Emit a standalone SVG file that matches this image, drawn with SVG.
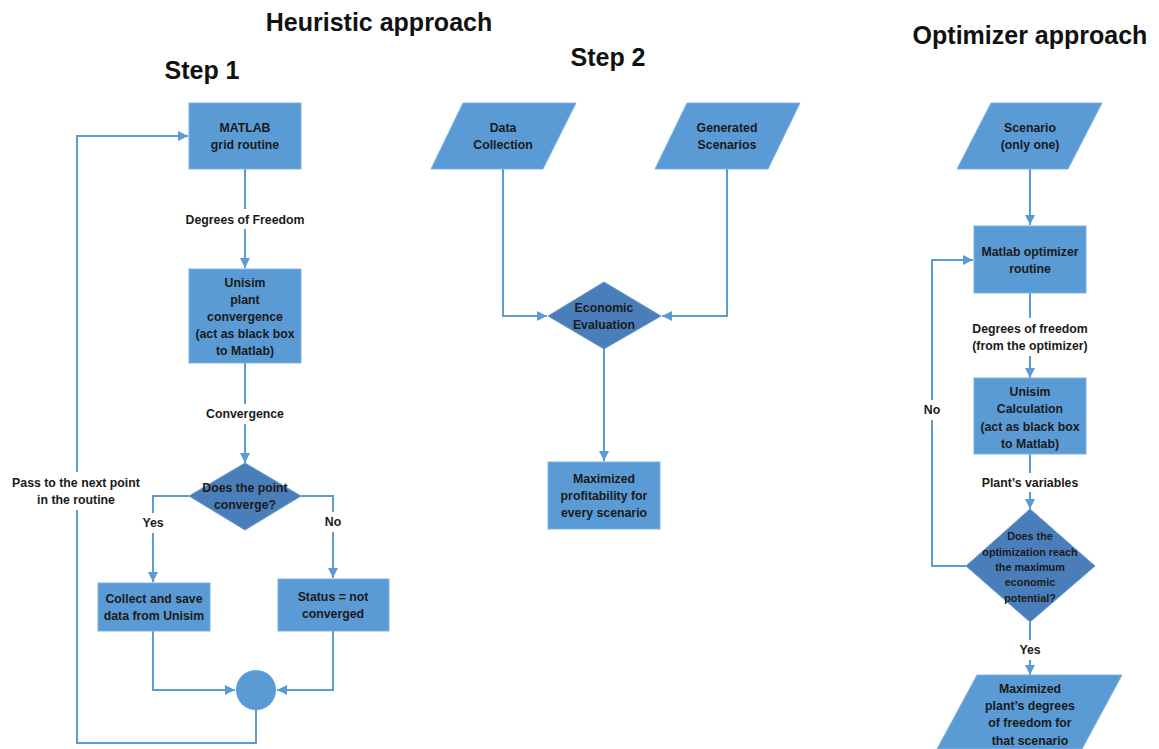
<svg xmlns="http://www.w3.org/2000/svg" width="1159" height="749" viewBox="0 0 1159 749">
<style>
.box{fill:#5B9BD5;stroke:#7FB2E3;stroke-width:1}
.dia{fill:#4A7EBB;stroke:#6C9AD0;stroke-width:1}
.ln{fill:none;stroke:#5B9BD5;stroke-width:2}
text{font-family:"Liberation Sans",Arial,sans-serif;font-weight:bold;fill:#1a1a1a;text-anchor:middle}
.t{font-size:12.3px}
.s{font-size:10.8px}
.h{font-size:25px;fill:#111}
</style>
<defs>
<marker id="ah" viewBox="0 0 10 10" refX="10" refY="5" markerWidth="10" markerHeight="10" markerUnits="userSpaceOnUse" orient="auto">
<path d="M0,0 L10,5 L0,10 z" fill="#5B9BD5"/>
</marker>
</defs>

<g id="titles">
<text class="h" x="379" y="31">Heuristic approach</text>
<text class="h" x="202" y="79">Step 1</text>
<text class="h" x="608" y="66">Step 2</text>
<text class="h" x="1030" y="44">Optimizer approach</text>
</g>

<g id="connectors">
<!-- Step 1 -->
<line class="ln" x1="245" y1="169" x2="245" y2="209"/>
<line class="ln" x1="245" y1="229" x2="245" y2="268" marker-end="url(#ah)"/>
<line class="ln" x1="245" y1="363" x2="245" y2="404"/>
<line class="ln" x1="245" y1="424" x2="245" y2="463" marker-end="url(#ah)"/>
<polyline class="ln" points="189,496 153,496 153,513"/>
<line class="ln" x1="153" y1="533" x2="153" y2="582" marker-end="url(#ah)"/>
<polyline class="ln" points="301,496 333,496 333,512"/>
<line class="ln" x1="333" y1="532" x2="333" y2="578" marker-end="url(#ah)"/>
<polyline class="ln" points="153,631 153,690 235,690" marker-end="url(#ah)"/>
<polyline class="ln" points="333,631 333,690 277,690" marker-end="url(#ah)"/>
<polyline class="ln" points="256,710 256,743 77,743 77,510"/>
<polyline class="ln" points="77,472 77,136 188,136" marker-end="url(#ah)"/>
<!-- Step 2 -->
<polyline class="ln" points="503,169 503,316 547,316" marker-end="url(#ah)"/>
<polyline class="ln" points="727,169 727,316 662,316" marker-end="url(#ah)"/>
<line class="ln" x1="604" y1="349" x2="604" y2="461" marker-end="url(#ah)"/>
<!-- Optimizer -->
<line class="ln" x1="1030" y1="169" x2="1030" y2="225" marker-end="url(#ah)"/>
<line class="ln" x1="1030" y1="293" x2="1030" y2="318"/>
<line class="ln" x1="1030" y1="356" x2="1030" y2="378" marker-end="url(#ah)"/>
<line class="ln" x1="1030" y1="454" x2="1030" y2="473"/>
<line class="ln" x1="1030" y1="492" x2="1030" y2="509" marker-end="url(#ah)"/>
<polyline class="ln" points="966,566 932,566 932,420"/>
<polyline class="ln" points="932,400 932,260 973,260" marker-end="url(#ah)"/>
<line class="ln" x1="1030" y1="622" x2="1030" y2="640"/>
<line class="ln" x1="1030" y1="660" x2="1030" y2="675" marker-end="url(#ah)"/>
</g>

<g id="labels">
<text class="t" x="245" y="224">Degrees of Freedom</text>
<text class="t" x="245" y="418">Convergence</text>
<text class="t" x="76" y="487">Pass to the next point</text>
<text class="t" x="76" y="504">in the routine</text>
<text class="t" x="153" y="527">Yes</text>
<text class="t" x="333" y="526">No</text>
<text class="t" x="1030" y="333">Degrees of freedom</text>
<text class="t" x="1030" y="350">(from the optimizer)</text>
<text class="t" x="1030" y="487">Plant’s variables</text>
<text class="t" x="932" y="414">No</text>
<text class="t" x="1030" y="654">Yes</text>
</g>

<g id="matlab-grid">
<rect class="box" x="189" y="103" width="112" height="66"/>
<text class="t" x="245" y="132">MATLAB</text>
<text class="t" x="245" y="149">grid routine</text>
</g>
<g id="unisim-plant">
<rect class="box" x="189" y="269" width="112" height="94"/>
<text class="t" x="245" y="287">Unisim</text>
<text class="t" x="245" y="304">plant</text>
<text class="t" x="245" y="321">convergence</text>
<text class="t" x="245" y="338">(act as black box</text>
<text class="t" x="245" y="355">to Matlab)</text>
</g>
<g id="point-converge">
<polygon class="dia" points="245,463 301,496 245,530 189,496"/>
<text class="t" x="245" y="492">Does the point</text>
<text class="t" x="245" y="509">converge?</text>
</g>
<g id="collect">
<rect class="box" x="98" y="583" width="112" height="48"/>
<text class="t" x="154" y="603">Collect and save</text>
<text class="t" x="154" y="620">data from Unisim</text>
</g>
<g id="status">
<rect class="box" x="278" y="579" width="111" height="52"/>
<text class="t" x="333" y="601">Status = not</text>
<text class="t" x="333" y="618">converged</text>
</g>
<g id="merge">
<circle cx="256" cy="690" r="20" fill="#5B9BD5"/>
</g>

<g id="data-collection">
<polygon class="box" points="463,103 576,103 543,169 431,169"/>
<text class="t" x="503" y="132">Data</text>
<text class="t" x="503" y="149">Collection</text>
</g>
<g id="generated-scenarios">
<polygon class="box" points="687,103 800,103 768,169 655,169"/>
<text class="t" x="727" y="132">Generated</text>
<text class="t" x="727" y="149">Scenarios</text>
</g>
<g id="economic-evaluation">
<polygon class="dia" points="604,282 661,316 604,349 548,316"/>
<text class="t" x="604" y="312">Economic</text>
<text class="t" x="604" y="329">Evaluation</text>
</g>
<g id="max-profit">
<rect class="box" x="548" y="462" width="112" height="67"/>
<text class="t" x="604" y="483">Maximized</text>
<text class="t" x="604" y="500">profitability for</text>
<text class="t" x="604" y="517">every scenario</text>
</g>

<g id="scenario">
<polygon class="box" points="991,103 1102,103 1068,169 957,169"/>
<text class="t" x="1030" y="132">Scenario</text>
<text class="t" x="1030" y="149">(only one)</text>
</g>
<g id="matlab-optimizer">
<rect class="box" x="974" y="226" width="112" height="67"/>
<text class="t" x="1030" y="256">Matlab optimizer</text>
<text class="t" x="1030" y="273">routine</text>
</g>
<g id="unisim-calc">
<rect class="box" x="974" y="378" width="112" height="76"/>
<text class="t" x="1030" y="396">Unisim</text>
<text class="t" x="1030" y="413">Calculation</text>
<text class="t" x="1030" y="431">(act as black box</text>
<text class="t" x="1030" y="448">to Matlab)</text>
</g>
<g id="max-potential">
<polygon class="dia" points="1030,509 1095,566 1030,622 966,566"/>
<text class="s" x="1030" y="540">Does the</text>
<text class="s" x="1030" y="556">optimization reach</text>
<text class="s" x="1030" y="571">the maximum</text>
<text class="s" x="1030" y="586">economic</text>
<text class="s" x="1030" y="602">potential?</text>
</g>
<g id="max-dof">
<polygon class="box" points="977,675 1122,675 1082,749 937,749"/>
<text class="t" x="1030" y="693">Maximized</text>
<text class="t" x="1030" y="710">plant’s degrees</text>
<text class="t" x="1030" y="727">of freedom for</text>
<text class="t" x="1030" y="745">that scenario</text>
</g>
</svg>
